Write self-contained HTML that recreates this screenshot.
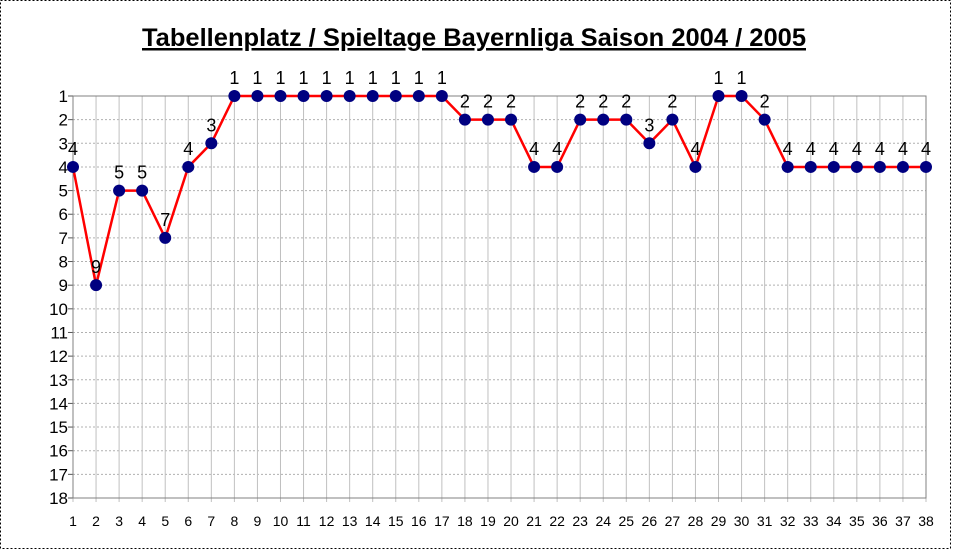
<!DOCTYPE html>
<html><head><meta charset="utf-8"><style>
body{margin:0;background:#fff;}
svg{display:block;font-family:"Liberation Sans",Arial,sans-serif;}
</style></head><body>
<svg id="c" width="953" height="550">
<rect x="0.5" y="0.5" width="950" height="548" fill="#fff" stroke="#000" stroke-dasharray="2,2"/>
<text x="474" y="46" text-anchor="middle" font-size="25" font-weight="bold" text-decoration="underline" textLength="664" lengthAdjust="spacingAndGlyphs">Tabellenplatz / Spieltage Bayernliga Saison 2004 / 2005</text>
<g id="grid"></g><g id="series"></g>
</svg>
<script>
const games=[1,2,3,4,5,6,7,8,9,10,11,12,13,14,15,16,17,18,19,20,21,22,23,24,25,26,27,28,29,30,31,32,33,34,35,36,37,38];
const ranks=[4,9,5,5,7,4,3,1,1,1,1,1,1,1,1,1,1,2,2,2,4,4,2,2,2,3,2,4,1,1,2,4,4,4,4,4,4,4];
const yTicks=[1,2,3,4,5,6,7,8,9,10,11,12,13,14,15,16,17,18];
const NS="http://www.w3.org/2000/svg";
const x0=73,x1=926,y0=96,y1=498;
const X=g=>x0+(g-1)*(x1-x0)/37;
const Y=r=>y0+(r-1)*(y1-y0)/17;
function mk(t,a,p){const e=document.createElementNS(NS,t);for(const k in a)e.setAttribute(k,a[k]);p.appendChild(e);return e;}
const grid=document.getElementById('grid'),ser=document.getElementById('series');
yTicks.forEach(r=>{
 const l=mk('line',{x1:x0,x2:x1,y1:Y(r),y2:Y(r),stroke:'#b0b0b0','stroke-dasharray':'2,2'},grid);
 
 
 const t=mk('text',{x:x0-5,y:Y(r)+6,'text-anchor':'end','font-size':'17'},grid);t.textContent=r;
 
 
 mk('line',{x1:x0-5,x2:x0,y1:Y(r),y2:Y(r),stroke:'#555'},grid);
});
games.forEach(g=>{
 const l=mk('line',{x1:X(g),x2:X(g),y1:y0,y2:y1+4,stroke:'#c0c0c0'},grid);
 
 
 const t=mk('text',{x:X(g),y:526,'text-anchor':'middle','font-size':'14'},grid);t.textContent=g;
 
 
});
const ax=mk('path',{d:`M${x0} ${y0}V${y1}H${x1}V${y0}H${x0}`,fill:'none',stroke:'#808080'},grid);


const ln=mk('polyline',{points:games.map((g,i)=>X(g)+','+Y(ranks[i])).join(' '),fill:'none',stroke:'#ff0000','stroke-width':'2.5'},ser);


games.forEach((g,i)=>{
 const c=mk('circle',{cx:X(g),cy:Y(ranks[i]),r:6,fill:'#000080'},ser);
 
 
 const t=mk('text',{x:X(g),y:Y(ranks[i])-12,'text-anchor':'middle','font-size':'18'},ser);t.textContent=ranks[i];
 
 
});
</script>
</body></html>
